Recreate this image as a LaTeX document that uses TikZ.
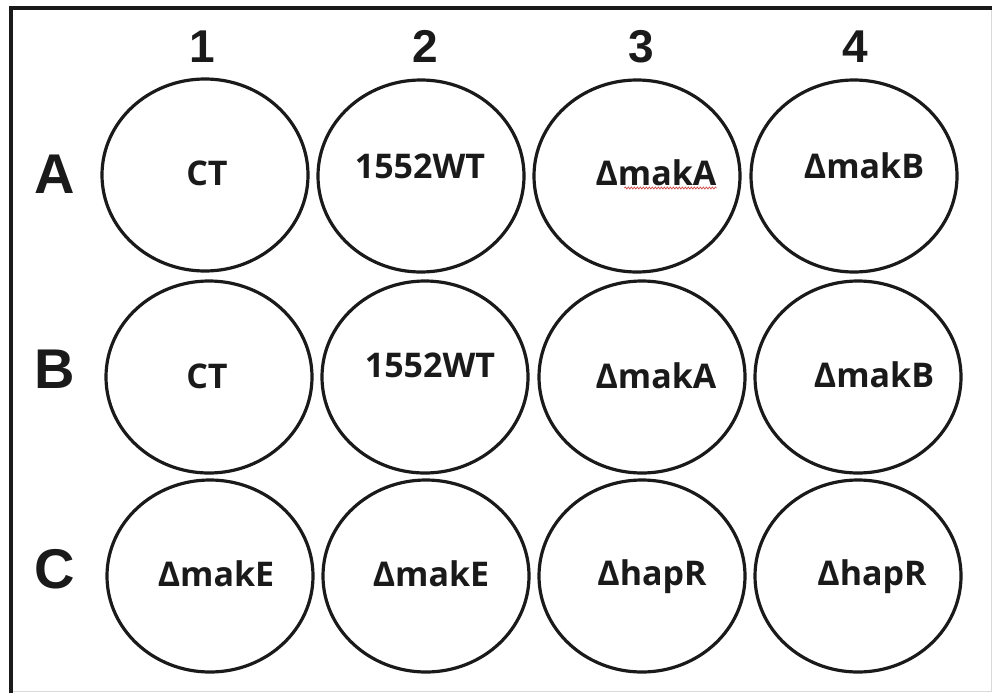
\documentclass[tikz,border=0pt]{standalone}
\usepackage{fontspec}
\setmainfont{Liberation Sans}
\newfontfamily\wellfont{Open Sans}
\usetikzlibrary{shapes.geometric,decorations.pathmorphing}
\definecolor{ink}{HTML}{1A1A1A}
\definecolor{edge}{HTML}{D9D9D9}
\definecolor{spell}{HTML}{D04848}
\tikzset{
  well/.style={ellipse,draw=ink,line width=3.2pt,minimum width=206pt,minimum height=192pt,inner sep=0pt},
  strain/.style={anchor=base,inner sep=0pt,font=\wellfont\bfseries\fontsize{34}{36}\selectfont,text=ink},
  rowlbl/.style={anchor=base,inner sep=0pt,font=\bfseries\fontsize{56}{60}\selectfont,text=ink},
  collbl/.style={anchor=base,inner sep=0pt,font=\bfseries\fontsize{46}{50}\selectfont,text=ink},
  squiggle/.style={draw=spell,line width=0.7pt,decorate,decoration={snake,amplitude=1pt,segment length=3pt}},
}

\begin{document}
\begin{tikzpicture}[x=1pt,y=-1pt]
\useasboundingbox (0,0) rectangle (992,693);

% plate frame
\draw[edge,line width=1pt] (991,8) -- (991,691) -- (11,691);
\draw[ink,line width=4.5pt] (11,693) -- (11,8) -- (992,8);

% column and row labels
\foreach \c/\x in {1/202,2/425,3/641,4/855}{\node[collbl] (col\c) at (\x,63) {\c};}
\foreach \r/\y in {A/193,B/388,C/588}{\node[rowlbl] (row\r) at (55,\y) {\r};}

% wells
\foreach \n/\x/\y in {A1/205/175,A2/421/176,A3/637/176,A4/854/176,
                      B1/209/377,B2/425/377,B3/642/377,B4/858/377,
                      C1/210/576,C2/426/576,C3/642/576,C4/858/576}{\node[well] (\n) at (\x,\y) {};}

% strains
\node[strain] (lA1) at ([shift={(2,10)}]A1) {CT};
\node[strain] (lA2) at ([shift={(-1,2)}]A2) {1552WT};
\node[strain] (lA3) at ([shift={(19,9)}]A3) {ΔmakA};
\node[strain] (lA4) at ([shift={(10,2)}]A4) {ΔmakB};
\node[strain] (lB1) at ([shift={(-2,11)}]B1) {CT};
\node[strain] (lB2) at ([shift={(5,0)}]B2) {1552WT};
\node[strain] (lB3) at ([shift={(14,11)}]B3) {ΔmakA};
\node[strain] (lB4) at ([shift={(16,10)}]B4) {ΔmakB};
\node[strain] (lC1) at ([shift={(6,10)}]C1) {ΔmakE};
\node[strain] (lC2) at ([shift={(5,10)}]C2) {ΔmakE};
\node[strain] (lC3) at ([shift={(10,9)}]C3) {ΔhapR};
\node[strain] (lC4) at ([shift={(14,9)}]C4) {ΔhapR};

\draw[squiggle] ([xshift=29pt,yshift=-3pt]lA3.base west) -- ([yshift=-3pt]lA3.base east);

\end{tikzpicture}
\end{document}
